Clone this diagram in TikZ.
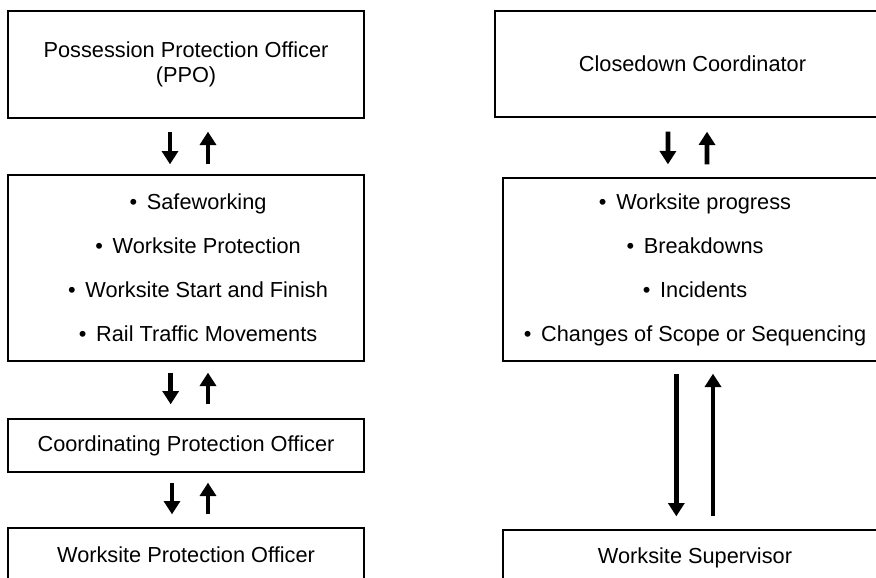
\documentclass[tikz,border=0pt]{standalone}
\usepackage{fontspec}
\setmainfont{Liberation Sans}
\usetikzlibrary{arrows.meta}

\newcommand{\puce}{\textbullet\hspace{0.45em}}

\begin{document}
\begin{tikzpicture}[x=0.75pt, y=-0.75pt,
  boite/.style={draw, line width=1pt, inner sep=0pt, align=center,
    font=\fontsize{16.3}{18.75}\selectfont},
  fleche/.style={line width=3.5pt, -{Triangle[width=12pt,length=10pt]}}]

\useasboundingbox (0,0) rectangle (876,578);
\clip (0,0) rectangle (876,578);

% Colonne de gauche
\node[boite, minimum width=267pt, minimum height=80.25pt] (ppo) at (186,64.5)
  {Possession Protection Officer\\(PPO)};
\node[boite, minimum width=267pt, minimum height=139.5pt,
  font=\fontsize{16.3}{33}\selectfont] (safe) at (186,268)
  {\hspace*{18pt}\puce Safeworking\\
   \hspace*{18pt}\puce Worksite Protection\\
   \hspace*{18pt}\puce Worksite Start and Finish\\
   \hspace*{18pt}\puce Rail Traffic Movements};
\node[boite, minimum width=267pt, minimum height=39.75pt] (cpo) at (186,445.5)
  {Coordinating Protection Officer};
\node[boite, minimum width=267pt, minimum height=40.5pt] (wpo) at (186,555)
  {Worksite Protection Officer};

% Fleches de gauche
\draw[fleche, shorten <=9.75pt, shorten >=7.5pt] ([xshift=-12pt]ppo.south) -- ([xshift=-12pt]safe.north);
\draw[fleche, shorten <=7.5pt, shorten >=9.75pt] ([xshift=16.5pt]safe.north) -- ([xshift=16.5pt]ppo.south);
\draw[fleche, shorten <=8.25pt, shorten >=10.5pt] ([xshift=-11.5pt]safe.south) -- ([xshift=-11.5pt]cpo.north);
\draw[fleche, shorten <=10.5pt, shorten >=8.25pt] ([xshift=16.5pt]cpo.north) -- ([xshift=16.5pt]safe.south);
\draw[fleche, shorten <=7.5pt, shorten >=9.75pt] ([xshift=-10.5pt]cpo.south) -- ([xshift=-10.5pt]wpo.north);
\draw[fleche, shorten <=9.75pt, shorten >=7.5pt] ([xshift=16.5pt]wpo.north) -- ([xshift=16.5pt]cpo.south);

% Colonne de droite
\node[boite, minimum width=296.25pt, minimum height=79.5pt] (cdc) at (692.5,64)
  {Closedown Coordinator};
\node[boite, minimum width=288pt, minimum height=137.25pt,
  font=\fontsize{16.3}{33}\selectfont] (prog) at (695,269.5)
  {\puce Worksite progress\\
   \puce Breakdowns\\
   \puce Incidents\\
   \puce Changes of Scope or Sequencing};
\node[boite, minimum width=288pt, minimum height=42pt] (sup) at (695,558)
  {Worksite Supervisor};

% Fleches de droite
\draw[fleche, shorten <=10.5pt, shorten >=9.75pt] ([xshift=-18.4pt]cdc.south) -- ([xshift=-20.3pt]prog.north);
\draw[fleche, shorten <=9.75pt, shorten >=10.5pt] ([xshift=9pt]prog.north) -- ([xshift=10.9pt]cdc.south);
\draw[fleche, shorten <=9pt, shorten >=9.75pt] ([xshift=-14pt]prog.south) -- ([xshift=-14pt]sup.north);
\draw[fleche, shorten <=9.75pt, shorten >=9pt] ([xshift=13.5pt]sup.north) -- ([xshift=13.5pt]prog.south);

\end{tikzpicture}
\end{document}
